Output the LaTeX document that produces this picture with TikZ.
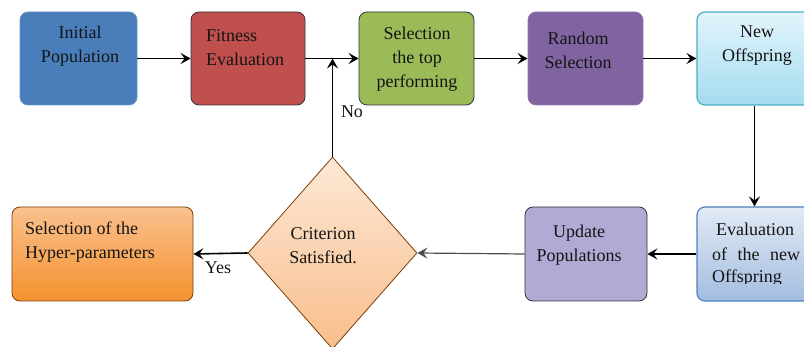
\documentclass[tikz,border=0pt]{standalone}
\usepackage{fontspec}
\setmainfont{Liberation Serif}
\usetikzlibrary{arrows.meta,shapes.geometric}
\definecolor{cBlue}{HTML}{4A7EBB}
\definecolor{cRed}{HTML}{C0504D}
\definecolor{cGreen}{HTML}{9BBB59}
\definecolor{cPurple}{HTML}{8064A2}
\definecolor{cLav}{HTML}{AFABD5}
\definecolor{cAquaTop}{HTML}{E3F4FB}
\definecolor{cAquaBot}{HTML}{A3DCF0}
\definecolor{cAquaLine}{HTML}{4BACC6}
\definecolor{cEvTop}{HTML}{E2EAF5}
\definecolor{cEvBot}{HTML}{A3BDE0}
\definecolor{cEvLine}{HTML}{4F81BD}
\definecolor{cDiaTop}{HTML}{FDE8D6}
\definecolor{cDiaBot}{HTML}{F9BE8C}
\definecolor{cOrTop}{HTML}{FAC08E}
\definecolor{cOrBot}{HTML}{F5922F}
\definecolor{cBrown}{HTML}{7A3E0A}
\definecolor{cDark}{HTML}{333333}
\begin{document}
\begin{tikzpicture}[x=1pt,y=-1pt,
  box/.style={rectangle, rounded corners=8pt, minimum width=#1, minimum height=93pt, inner sep=0pt, line width=0.8pt},
  txt/.style={inner sep=0pt, font=\fontsize{18}{24}\selectfont, text=black!92},
  arr/.style={-{Stealth[length=10pt,width=11pt,inset=4pt]}, line width=1.6pt, black},
  thinarr/.style={-{Stealth[length=10pt,width=11pt,inset=4pt]}, line width=1.2pt, black!70}]
\clip (0,0) rectangle (804,347);
% top row
\node[box=117pt, fill=cBlue, draw=cBlue!85!white] (init) at (78.5,58.5) {};
\node[box=114pt, fill=cRed, draw=cDark] (fit) at (248,58.5) {};
\node[box=115pt, fill=cGreen, draw=cDark] (sel) at (416.5,58.5) {};
\node[box=115pt, fill=cPurple, draw=cPurple!85!white] (rnd) at (585.5,58.5) {};
\node[box=115pt, top color=cAquaTop, bottom color=cAquaBot, draw=cAquaLine, line width=1.2pt] (newo) at (754.5,58.5) {};
% bottom row
\node[box=115pt, minimum height=94pt, top color=cEvTop, bottom color=cEvBot, draw=cEvLine, line width=1.2pt] (evalo) at (754.5,254) {};
\node[box=122pt, minimum height=94pt, fill=cLav, draw=cDark] (upd) at (586,254) {};
\node[diamond, minimum width=169pt, minimum height=192pt, inner sep=0pt, top color=cDiaTop, bottom color=cDiaBot, draw=cBrown, line width=0.8pt] (dia) at (332.5,253) {};
\node[box=181pt, minimum height=94pt, top color=cOrTop, bottom color=cOrBot, draw=cBrown, line width=0.8pt] (hyp) at (102.5,254) {};
% texts
\node[txt, align=center] (tinit) at (80,46) {Initial\\Population};
\node[txt, align=left] (tfit) at (245,47.5) {Fitness\\Evaluation};
\node[txt, align=center] (tsel) at (417,59.5) {Selection\\the top\\performing};
\node[txt, align=center] (trnd) at (578,50.5) {Random\\Selection};
\node[txt, align=center] (tnew) at (757,46) {New\\Offspring};
\node[txt, align=center] (tdia) at (323,245.5) {Criterion\\Satisfied.};
\node[txt, align=center] (tupd) at (579,245.5) {Update\\Populations};
\node[txt, align=left, anchor=west] (thyp) at (25,242.5) {Selection of the\\Hyper-parameters};
\begin{scope}
\clip (697,207) rectangle (812,283.5);
\node[txt] (tev1) at (755,229) {Evaluation};
\node[txt] (tev2) at (756,254) {\makebox[88pt][s]{of the new}};
\node[txt, anchor=west] (tev3) at (712,278) {Offspring};
\end{scope}
% connectors
\coordinate (join) at (dia.north |- fit.east);
\draw[arr] (init.east) -- (fit.west);
\draw[arr] (fit.east) -- (sel.west);
\draw[arr] (sel.east) -- (rnd.west);
\draw[arr] (rnd.east) -- (newo.west);
\draw[arr] (newo.south) -- (evalo.north);
\draw[arr] (evalo.west) -- (upd.east);
\draw[thinarr] (upd.west) -- (dia.east);
\draw[arr] (dia.west) -- (hyp.east);
\draw[arr] (dia.north) -- (join);
\node[txt] (yes) at (218,268) {Yes};
\node[txt] (no) at (352,112) {No};
\end{tikzpicture}
\end{document}
